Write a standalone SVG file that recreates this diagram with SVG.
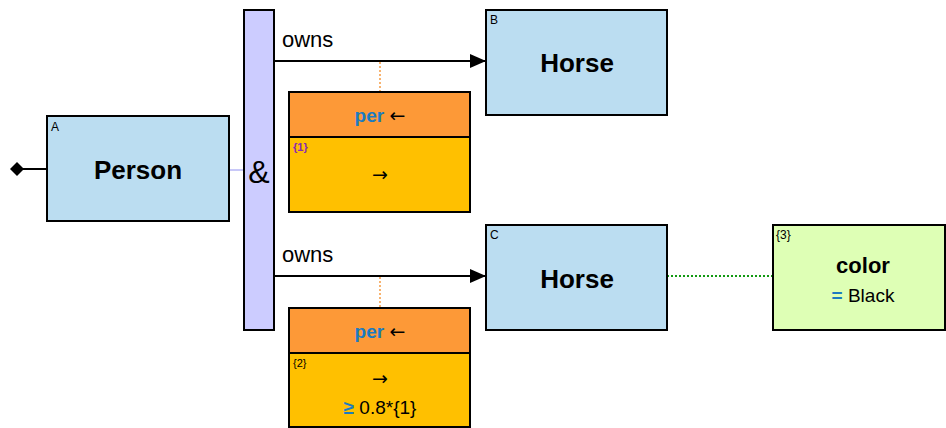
<svg xmlns="http://www.w3.org/2000/svg" width="946" height="428" viewBox="0 0 946 428">
<defs>
<style>
.box{fill:#BBDDF1;stroke:#000;stroke-width:2}
.title{font-family:"Liberation Sans",Arial,sans-serif;font-weight:bold;font-size:26px;text-anchor:middle;fill:#000}
.tag{font-family:"Liberation Sans",Arial,sans-serif;font-size:12px;fill:#000}
.lbl{font-family:"Liberation Sans",Arial,sans-serif;font-size:22px;fill:#000}
.hdr{fill:#FD9937;stroke:#000;stroke-width:2}
.body{fill:#FFC000;stroke:#000;stroke-width:2}
.per{font-family:"Liberation Sans",Arial,sans-serif;font-size:19px;text-anchor:middle}
.blue{fill:#1B7BC0;font-weight:bold}
.arw{font-family:"DejaVu Sans",sans-serif;font-size:19px;fill:#000}
.mid{font-family:"Liberation Sans",Arial,sans-serif;font-size:19px;text-anchor:middle;fill:#000}
.conn{stroke:#000;stroke-width:2;fill:none}
</style>
<marker id="arr" markerWidth="16" markerHeight="14" refX="16" refY="7" orient="auto" markerUnits="userSpaceOnUse">
<path d="M0,0 L16,7 L0,14 Z" fill="#000"/>
</marker>
</defs>
<g id="connectors">
<line class="conn" x1="23" y1="169" x2="47" y2="169"/>
<path d="M10,169 L17,162 L24,169 L17,176 Z" fill="#000"/>
<line x1="229" y1="170" x2="244" y2="170" stroke="#C8C8F8" stroke-width="2"/>
<line class="conn" x1="274" y1="61" x2="486" y2="61" marker-end="url(#arr)"/>
<line class="conn" x1="274" y1="276" x2="486" y2="276" marker-end="url(#arr)"/>
<line x1="380" y1="62" x2="380" y2="92" stroke="#F59A42" stroke-width="1.5" stroke-dasharray="2,2"/>
<line x1="380" y1="277" x2="380" y2="308" stroke="#F59A42" stroke-width="1.5" stroke-dasharray="2,2"/>
<line x1="667" y1="276" x2="773" y2="276" stroke="#129A12" stroke-width="2" stroke-dasharray="2,2"/>
<text class="lbl" x="282" y="47">owns</text>
<text class="lbl" x="282" y="262">owns</text>
</g>
<g id="A">
<rect class="box" x="47" y="116" width="182" height="105"/>
<text class="tag" x="51" y="131">A</text>
<text class="title" x="138" y="179">Person</text>
</g>
<g id="and">
<rect x="244" y="10" width="30" height="320" fill="#CCCCFF" stroke="#000" stroke-width="2"/>
<text x="259" y="183" font-family="'Liberation Sans',Arial,sans-serif" font-size="32" text-anchor="middle" fill="#000">&amp;</text>
</g>
<g id="B">
<rect class="box" x="486" y="10" width="181" height="105"/>
<text class="tag" x="490" y="24">B</text>
<text class="title" x="577" y="72">Horse</text>
</g>
<g id="C">
<rect class="box" x="486" y="225" width="181" height="105"/>
<text class="tag" x="490" y="239">C</text>
<text class="title" x="577" y="288">Horse</text>
</g>
<g id="per1">
<rect class="hdr" x="289" y="92" width="181" height="45"/>
<rect class="body" x="289" y="137" width="181" height="75"/>
<text class="per" x="380" y="122"><tspan class="blue">per</tspan> <tspan class="arw">←</tspan></text>
<text x="293" y="151" font-family="'Liberation Sans',Arial,sans-serif" font-size="11" font-weight="bold" fill="#8A2BB0">{1}</text>
<text class="mid" x="380" y="181"><tspan class="arw">→</tspan></text>
</g>
<g id="per2">
<rect class="hdr" x="289" y="308" width="181" height="45"/>
<rect class="body" x="289" y="353" width="181" height="74"/>
<text class="per" x="380" y="338"><tspan class="blue">per</tspan> <tspan class="arw">←</tspan></text>
<text x="293" y="367" font-family="'Liberation Sans',Arial,sans-serif" font-size="11" fill="#000">{2}</text>
<text class="mid" x="380" y="385"><tspan class="arw">→</tspan></text>
<text class="mid" x="380" y="414"><tspan class="blue">≥</tspan> 0.8*{1}</text>
</g>
<g id="color3">
<rect x="773" y="225" width="172" height="105" fill="#DEFFB5" stroke="#000" stroke-width="2"/>
<text class="tag" x="776" y="239">{3}</text>
<text x="863" y="273" font-family="'Liberation Sans',Arial,sans-serif" font-size="22" font-weight="bold" text-anchor="middle" fill="#000">color</text>
<text x="863" y="302" font-family="'Liberation Sans',Arial,sans-serif" font-size="19" text-anchor="middle" fill="#000"><tspan fill="#1B7BC0" font-weight="bold">=</tspan> Black</text>
</g>
</svg>
